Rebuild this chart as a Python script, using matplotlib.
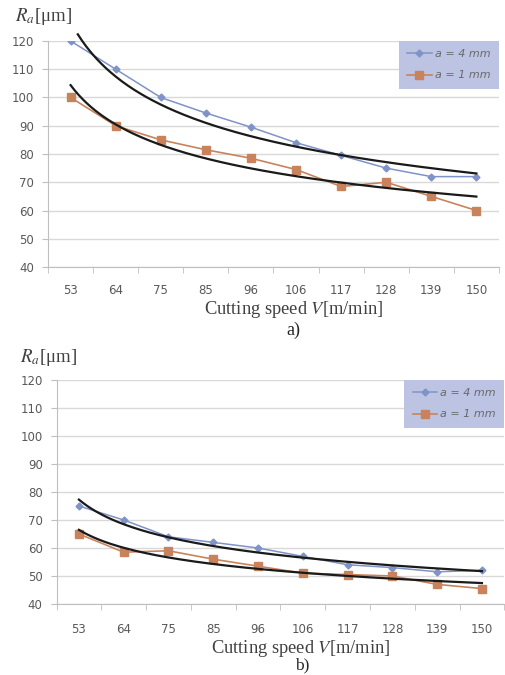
import numpy as np
import matplotlib.pyplot as plt
from matplotlib.ticker import FixedLocator

# Schnittgeschwindigkeiten (Kategorien)
speeds = ["53", "64", "75", "85", "96", "106", "117", "128", "139", "150"]

# Panel a)
ra_a4_top = [120, 110, 100, 94.5, 89.5, 84, 79.5, 75, 72, 72]
ra_a1_top = [100, 90, 85, 81.5, 78.5, 74.5, 68.5, 70, 65, 60]

# Panel b)
ra_a4_bot = [75, 70, 64, 62, 60, 57, 54, 53, 51.5, 52]
ra_a1_bot = [65, 58.5, 59, 56, 53.5, 51, 50.5, 50, 47, 45.5]

y_ticks = [40, 50, 60, 70, 80, 90, 100, 110, 120]

plt.rcParams["mathtext.fontset"] = "stix"

BLUE = "#7f93c9"
ORANGE = "#c9835c"
TICK_GRAY = "#595959"
GRID = "#d9d9d9"


def power_trend(values, start):
    # Excel-artige Potenz-Trendlinie: Fit von log(y) gegen log(n)
    n = np.arange(1, len(values) + 1)
    b, log_a = np.polyfit(np.log(n), np.log(values), 1)
    xs = np.linspace(start, len(values), 200)
    return xs - 1, np.exp(log_a) * xs ** b


def draw_panel(fig, rect, ra4, ra1, starts, xpad):
    ax = fig.add_axes(rect)
    x = np.arange(len(speeds))

    ax.set_xlim(-0.5, len(speeds) - 0.5)
    ax.set_ylim(40, 120)
    ax.set_yticks(y_ticks)
    ax.set_xticks(x)
    ax.set_xticklabels(speeds)
    ax.xaxis.set_minor_locator(FixedLocator(np.arange(-0.5, len(speeds), 1)))

    ax.grid(axis="y", color=GRID, linewidth=1)
    ax.set_axisbelow(True)
    for side in ["top", "right"]:
        ax.spines[side].set_visible(False)
    for side in ["left", "bottom"]:
        ax.spines[side].set_color("#bfbfbf")
    ax.tick_params(axis="x", which="major", length=0, pad=xpad, labelsize=8.5, labelcolor=TICK_GRAY)
    ax.tick_params(axis="x", which="minor", length=4, color="#bfbfbf")
    ax.tick_params(axis="y", length=4, color="#bfbfbf", labelsize=8.5, labelcolor=TICK_GRAY, pad=6)

    l4, = ax.plot(x, ra4, color=BLUE, marker="D", markersize=3.5, linewidth=1.1, label="a = 4 mm")
    l1, = ax.plot(x, ra1, color=ORANGE, marker="s", markersize=5.5, linewidth=1.2, label="a = 1 mm")

    for vals, s in zip([ra4, ra1], starts):
        xs, ys = power_trend(vals, s)
        ax.plot(xs, ys, color="#1a1a1a", linewidth=1.6, clip_on=False)

    leg = ax.legend(handles=[l4, l1], loc="upper right", bbox_to_anchor=(1.0, 1.0),
                    borderaxespad=0, frameon=True, fancybox=False, handlelength=2.2,
                    handletextpad=0.3, borderpad=0.75, labelspacing=1.0,
                    prop={"style": "italic", "size": 8})
    leg.get_frame().set_facecolor("#bcc3e3")
    leg.get_frame().set_edgecolor("none")
    leg.get_frame().set_alpha(1)
    for t in leg.get_texts():
        t.set_color("#6a6a6a")
    return ax


fig = plt.figure(figsize=(5.06, 6.75), dpi=100)

ax_top = draw_panel(fig, [0.095, 0.6044, 0.891, 0.3349], ra_a4_top, ra_a1_top,
                    [1.16, 1.0], 12)
ax_bot = draw_panel(fig, [0.1117, 0.1052, 0.885, 0.3319], ra_a4_bot, ra_a1_bot,
                    [1.0, 1.0], 14)

serif = "Liberation Serif"
fig.text(0.03, 0.975, "$R_a$[μm]", fontsize=13.5, color="#404040", va="center", family=serif)
fig.text(0.04, 0.471, "$R_a$[μm]", fontsize=13.5, color="#404040", va="center", family=serif)

fig.text(0.581, 0.541, "Cutting speed $V$[m/min]", fontsize=13.3, color="#404040",
         ha="center", va="center", family=serif)
fig.text(0.58, 0.511, "a)", fontsize=13, color="#262626", ha="center", va="center", family=serif)
fig.text(0.595, 0.039, "Cutting speed $V$[m/min]", fontsize=13.3, color="#404040",
         ha="center", va="center", family=serif)
fig.text(0.597, 0.002, "b)", fontsize=12.5, color="#262626", ha="center", va="bottom", family=serif)

fig.savefig("out.png", dpi=100)
